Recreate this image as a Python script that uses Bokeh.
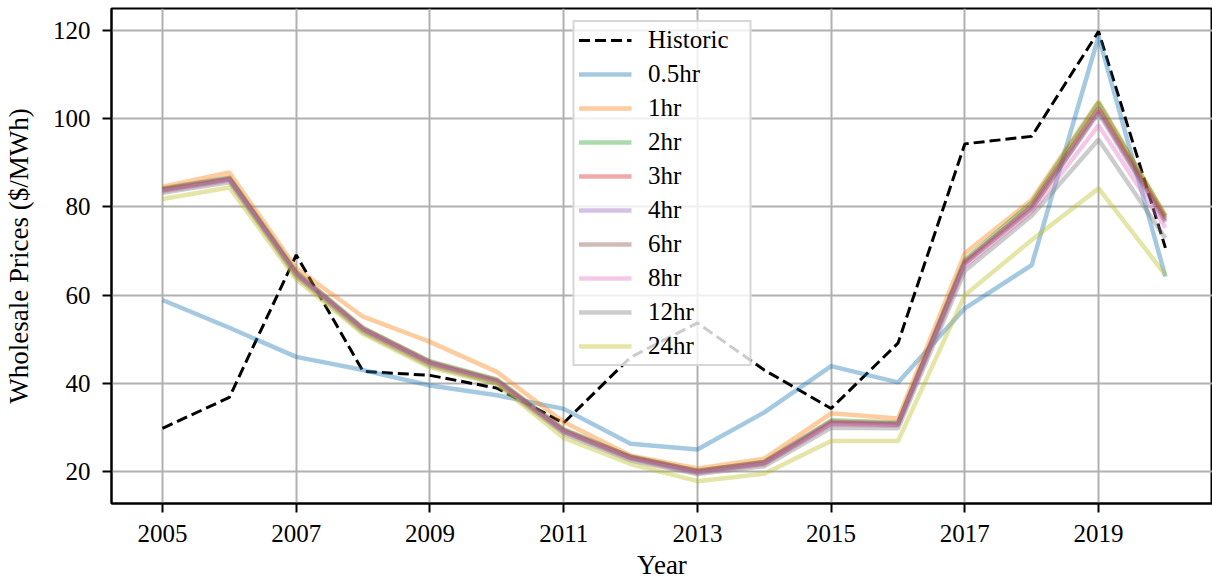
from bokeh.plotting import figure
from bokeh.models import Range1d, FixedTicker
from bokeh.embed import file_html
from bokeh.resources import INLINE

years = list(range(2005, 2021))

historic = [29.8, 36.8, 69.1, 42.7, 41.8, 38.9, 31.0, 45.9, 53.7, 43.0, 34.3, 49.1, 94.3, 96.0, 119.8, 70.7]
hr_0_5 = [58.9, 52.6, 46.0, 43.0, 39.5, 37.3, 34.2, 26.3, 25.0, 33.4, 43.9, 40.2, 57.0, 66.8, 118.7, 64.2]
hr_1 = [84.6, 87.8, 66.1, 55.1, 49.4, 42.6, 31.2, 23.6, 20.7, 22.9, 33.2, 32.0, 69.5, 81.6, 103.9, 78.0]
hr_2 = [84.2, 86.7, 65.3, 52.6, 45.0, 40.9, 29.6, 23.4, 20.2, 22.2, 31.6, 31.1, 68.0, 81.0, 103.6, 77.9]
hr_3 = [84.0, 86.5, 65.0, 52.4, 44.8, 40.7, 29.4, 23.3, 20.1, 22.1, 31.3, 30.9, 67.6, 80.3, 102.4, 77.4]
hr_4 = [83.8, 86.3, 64.8, 52.2, 44.6, 40.5, 29.2, 23.1, 19.9, 21.9, 31.0, 30.7, 67.3, 79.8, 101.3, 76.5]
hr_6 = [83.8, 86.2, 64.7, 52.1, 44.5, 40.4, 29.1, 23.0, 19.8, 21.8, 30.9, 30.6, 67.1, 79.5, 101.8, 76.9]
hr_8 = [83.5, 86.0, 64.5, 51.9, 44.3, 40.2, 28.9, 22.8, 19.6, 21.6, 30.6, 30.4, 66.6, 78.9, 98.5, 75.3]
hr_12 = [83.2, 85.6, 64.2, 51.6, 44.0, 40.0, 28.6, 22.5, 19.4, 21.2, 29.9, 29.8, 65.5, 78.0, 95.3, 72.9]
hr_24 = [81.8, 84.4, 63.6, 51.2, 43.6, 39.8, 27.6, 21.7, 17.8, 19.5, 26.9, 26.9, 60.0, 72.5, 84.2, 64.6]

series_labels = ["0.5hr", "1hr", "2hr", "3hr", "4hr", "6hr", "8hr", "12hr", "24hr"]
series_values = [hr_0_5, hr_1, hr_2, hr_3, hr_4, hr_6, hr_8, hr_12, hr_24]
series_colors = ["#1f77b4", "#ff7f0e", "#2ca02c", "#d62728", "#9467bd",
                 "#8c564b", "#e377c2", "#7f7f7f", "#bcbd22"]

x_ticks = [2005, 2007, 2009, 2011, 2013, 2015, 2017, 2019]
y_ticks = [20, 40, 60, 80, 100, 120]
x_title = "Year"
y_title = "Wholesale Prices ($/MWh)"

FONT = "Liberation Serif"

p = figure(width=1212, height=582,
           x_range=Range1d(2004.237, 2020.704), y_range=Range1d(12.74, 125.0),
           output_backend="svg", toolbar_location=None,
           min_border_left=111, min_border_right=0, min_border_top=8, min_border_bottom=79)

p.background_fill_color = "white"
p.border_fill_color = "white"
p.outline_line_color = "black"
p.outline_line_width = 2

p.line(years, historic, line_color="black", line_width=3, line_dash="11 5", legend_label="Historic")
for lab, vals, col in zip(series_labels, series_values, series_colors):
    p.line(years, vals, line_color=col, line_alpha=0.4, line_width=4.5, legend_label=lab)

p.xaxis.ticker = FixedTicker(ticks=x_ticks)
p.yaxis.ticker = FixedTicker(ticks=y_ticks)
p.xaxis.axis_label = x_title
p.yaxis.axis_label = y_title

for ax in (p.xaxis, p.yaxis):
    ax.axis_line_color = "black"
    ax.axis_line_width = 2
    ax.major_tick_line_color = "black"
    ax.major_tick_line_width = 2
    ax.major_tick_out = 9
    ax.major_tick_in = 0
    ax.minor_tick_line_color = None
    ax.major_label_text_font = FONT
    ax.major_label_text_font_size = "25px"
    ax.major_label_text_color = "black"
    ax.axis_label_text_font = FONT
    ax.axis_label_text_font_size = "27px"
    ax.axis_label_text_font_style = "normal"
    ax.axis_label_text_color = "black"

p.xaxis.major_label_standoff = 12
p.xaxis.axis_label_standoff = 5
p.yaxis.major_label_standoff = 12
p.yaxis.axis_label_standoff = 16

p.xgrid.ticker = FixedTicker(ticks=x_ticks)
p.ygrid.ticker = FixedTicker(ticks=y_ticks)
for g in (p.xgrid, p.ygrid):
    g.grid_line_color = "#b0b0b0"
    g.grid_line_width = 2

lg = p.legend[0]
lg.location = "top_center"
lg.margin = 12
lg.label_text_font = FONT
lg.label_text_font_size = "25px"
lg.label_text_color = "black"
lg.glyph_width = 53
lg.glyph_height = 24
lg.label_height = 24
lg.label_width = 97
lg.spacing = 6
lg.padding = 4
lg.label_standoff = 17
lg.border_line_color = "#cccccc"
lg.border_line_width = 2
lg.border_line_alpha = 0.8
lg.background_fill_color = "white"
lg.background_fill_alpha = 0.8

open("out.html", "w").write(file_html(p, INLINE))
